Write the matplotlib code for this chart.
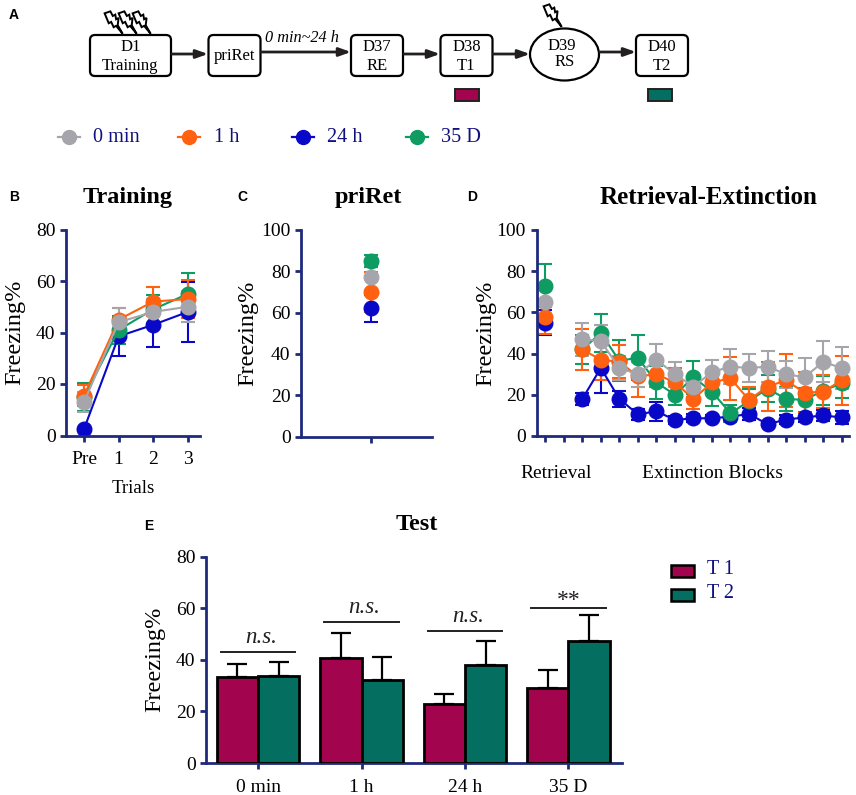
import numpy as np
import matplotlib
matplotlib.use('Agg')
import matplotlib.pyplot as plt
from matplotlib.patches import FancyBboxPatch, Ellipse, Polygon, Rectangle

W, H = 856, 795
plt.rcParams['font.family'] = ['Liberation Serif', 'DejaVu Serif']
plt.rcParams['mathtext.fontset'] = 'stix'

# ---- data ----
groups = ['0 min', '1 h', '24 h', '35 D']
draw_order = ['24 h', '35 D', '1 h', '0 min']
colors = {'0 min': '#A7A5AC', '1 h': '#FF6110', '24 h': '#0A08C8', '35 D': '#0E9C62'}

train_labels = ['Pre', '1', '2', '3']
train_mean = {'0 min': [13, 44, 48, 50], '1 h': [15.5, 45, 52, 53],
              '24 h': [2.5, 38.5, 43, 48], '35 D': [15, 41, 49, 55]}
train_err = {'0 min': [4, 5.5, 5, 6], '1 h': [4, 4.5, 5.5, 7.5],
             '24 h': [0.5, 7.5, 8.5, 11.5], '35 D': [5.5, 5.5, 5.5, 8]}

pri_mean = {'0 min': 77, '1 h': 70, '24 h': 62, '35 D': 85}
pri_err = {'0 min': 6, '1 h': 9.5, '24 h': 6.5, '35 D': 3}

ret_mean = {'0 min': 65, '1 h': 58, '24 h': 55, '35 D': 73}
ret_err = {'0 min': 8, '1 h': 8.5, '24 h': 6, '35 D': 10.5}

ext_mean = {
    '0 min': [47, 46, 33, 30, 37, 30, 24, 31, 33.7, 33, 33.7, 30, 28.5, 36, 33],
    '1 h': [42, 37, 36, 29, 30, 26, 18, 26, 28, 17.5, 24, 27, 21, 21.5, 27],
    '24 h': [18, 33, 18, 10.5, 12, 7.8, 8.6, 8.6, 9.4, 10.7, 5.7, 8, 9, 10, 9],
    '35 D': [42, 50, 36.5, 38, 26, 20, 28.5, 21.5, 11, 17, 23, 18, 17.5, 22, 25.5],
}
ext_err = {
    '0 min': [8, 8, 6, 6, 7.5, 6, 5, 6, 8.5, 7, 7.5, 6.5, 9.5, 10, 10],
    '1 h': [10, 10, 8, 10, 6, 7, 5, 6, 10.5, 6.5, 12, 13, 10, 8, 12],
    '24 h': [3, 12, 4, 2.5, 4.5, 2, 2, 1.5, 2, 3, 1, 2, 2, 2.5, 3],
    '35 D': [7, 9, 10, 11, 8, 5, 8, 7, 4, 6, 6.5, 6, 6, 7, 7],
}
ext_gap = 1  # unlabelled slot between retrieval and the extinction blocks

test_labels = ['0 min', '1 h', '24 h', '35 D']
t1_mean = [33.5, 40.5, 23, 29]
t1_top = [38.2, 50.5, 26.8, 36]
t2_mean = [33.8, 32.2, 38, 47.2]
t2_top = [39, 41.2, 47.3, 57.5]
sig_y = [43, 54.5, 51, 60]
sig_text = ['n.s.', 'n.s.', 'n.s.', '**']

navy = '#1F2A7C'
dark = '#231F20'
T1 = '#A3044E'
T2 = '#046F60'
legend_blue = '#10107F'

fig = plt.figure(figsize=(W / 100, H / 100), dpi=100, facecolor='white')


def px_axes(x0, y0, x1, y1):
    """axes from pixel box: x0 left, y0 bottom (image coords), x1 right, y1 top"""
    ax = fig.add_axes([x0 / W, 1 - y0 / H, (x1 - x0) / W, (y0 - y1) / H])
    ax.patch.set_alpha(0)
    for s in ['top', 'right']:
        ax.spines[s].set_visible(False)
    for s in ['left', 'bottom']:
        ax.spines[s].set_color(navy)
        ax.spines[s].set_linewidth(2.0)
    ax.tick_params(axis='both', color=navy, width=2.0, length=4.5, labelsize=14, pad=3)
    return ax


def pts(ax, x, y, e, c, ms=10.5):
    ax.errorbar(x, y, yerr=e, color=c, lw=1.5, elinewidth=1.5, capsize=5, capthick=1.5,
                marker='o', ms=ms, mec=c, mfc=c, clip_on=False)


# ---- B ----
ax = px_axes(66, 435.5, 200, 229.5)
x = np.arange(4)
ax.set_xlim(-0.52, 3.35)
ax.set_ylim(0, 80)
for g in draw_order:
    pts(ax, x, train_mean[g], train_err[g], colors[g])
ax.set_xticks(x, train_labels)
ax.tick_params(axis='x', pad=7)
ax.set_yticks([0, 20, 40, 60, 80])
ax.set_ylabel('Freezing%', fontsize=17.5, labelpad=8)
ax.set_xlabel('Trials', fontsize=13.5, labelpad=8)

# ---- C ----
ax = px_axes(301, 436.5, 432, 230)
ax.set_xlim(-70 / 61, 1)
ax.set_ylim(0, 100)
for g in ['24 h', '1 h', '35 D', '0 min']:
    pts(ax, [0], [pri_mean[g]], [pri_err[g]], colors[g])
ax.set_xticks([0], [''])
ax.set_yticks([0, 20, 40, 60, 80, 100])
ax.set_ylabel('Freezing%', fontsize=17.5, labelpad=2)

# ---- D ----
ax = px_axes(536.5, 436, 849, 230)
ax.set_xlim(-8.8 / 18.6, 16 + 7.4 / 18.6)
ax.set_ylim(0, 100)
ext_x = np.arange(len(ext_mean['0 min'])) + 1 + ext_gap
for g in draw_order:
    pts(ax, ext_x, ext_mean[g], ext_err[g], colors[g])
    pts(ax, [0], [ret_mean[g]], [ret_err[g]], colors[g])
ax.set_xticks(np.arange(17), [''] * 17)
ax.set_yticks([0, 20, 40, 60, 80, 100])
ax.set_ylabel('Freezing%', fontsize=17.5, labelpad=0)

# ---- E ----
ax = px_axes(206, 763, 622, 556.5)
cx = np.arange(4)
bw = 41.3 / 103.4
ax.set_xlim(-52 / 103.4, 3 + 53.5 / 103.4)
ax.set_ylim(0, 80)
ax.bar(cx - bw / 2, t1_mean, bw, color=T1, edgecolor='black', lw=2, zorder=3)
ax.bar(cx + bw / 2, t2_mean, bw, color=T2, edgecolor='black', lw=2, zorder=3)
for xs, m, t in ((cx - bw / 2, t1_mean, t1_top), (cx + bw / 2, t2_mean, t2_top)):
    ax.errorbar(xs, m, yerr=[np.zeros(4), np.array(t) - np.array(m)], fmt='none',
                ecolor='black', elinewidth=1.6, capsize=7.5, capthick=1.6, zorder=2)
for i in range(4):
    ax.plot([i - 0.36, i + 0.36], [sig_y[i]] * 2, color=dark, lw=1.4)
    if sig_text[i] == '**':
        ax.text(i, sig_y[i] - 1.2, sig_text[i], ha='center', va='bottom', fontsize=17, color=dark)
    else:
        ax.text(i + 0.03, sig_y[i] + 1.5, sig_text[i], ha='center', va='bottom', fontsize=16.5,
                style='italic', color=dark)
ax.set_xticks(cx, test_labels)
ax.set_yticks([0, 20, 40, 60, 80])
ax.tick_params(axis='x', pad=7)
ax.set_ylabel('Freezing%', fontsize=17.5, labelpad=8)

# ---- overlay: schematic, legends, titles ----
ov = fig.add_axes([0, 0, 1, 1], zorder=10)
ov.set_xlim(0, W)
ov.set_ylim(H, 0)
ov.axis('off')
ov.patch.set_alpha(0)


def box(x0, y0, x1, y1, lines):
    ov.add_patch(FancyBboxPatch((x0 + 4, y0 + 4), x1 - x0 - 8, y1 - y0 - 8,
                                boxstyle='round,pad=4,rounding_size=5', fc='white',
                                ec='black', lw=1.6))
    if len(lines) == 1:
        ov.text((x0 + x1) / 2, (y0 + y1) / 2 + 0.5, lines[0], ha='center', va='center', fontsize=12)
    else:
        ov.text((x0 + x1) / 2, y0 + 12, lines[0], ha='center', va='center', fontsize=12)
        ov.text((x0 + x1) / 2, y0 + 30.5, lines[1], ha='center', va='center', fontsize=12)


def arrow(x0, x1, y):
    ov.annotate('', xy=(x1, y), xytext=(x0, y),
                arrowprops=dict(arrowstyle='-|>,head_length=0.7,head_width=0.25', color=dark,
                                lw=2.0, shrinkA=0, shrinkB=0))


def bolt(cx_, top):
    shape = np.array([[-9, 2], [-2, -1], [1, 6], [4, 4], [5, 11], [8, 9], [7, 20], [13, 33],
                      [5, 21], [2, 23], [-1, 15], [-4, 17]], float) * [0.82, 0.66]
    ov.add_patch(Polygon(shape + [cx_, top], closed=True, fc='white', ec='black', lw=1.4))


box(90, 35, 171, 76, ['D1', 'Training'])
box(208.5, 35, 260.5, 76, ['priRet'])
box(351, 35, 403, 76, ['D37', 'RE'])
box(440.5, 35, 492.5, 76, ['D38', 'T1'])
box(636, 35, 688, 76, ['D40', 'T2'])
ov.add_patch(Ellipse((564.5, 54.5), 69, 52, fc='white', ec='black', lw=1.6))
ov.text(562, 46, 'D39', ha='center', va='center', fontsize=12)
ov.text(565, 62, 'RS', ha='center', va='center', fontsize=12)
arrow(172, 208, 54)
arrow(261, 351, 52)
arrow(404, 440, 54)
arrow(493, 530, 54)
arrow(600, 636, 52)
ov.text(302, 37.5, '0 min~24 h', ha='center', va='center', fontsize=11.7, style='italic')
for c_ in (112, 126, 140):
    bolt(c_, 12)
bolt(551, 5)
ov.add_patch(Rectangle((455.5, 88.5), 24, 12, fc=T1, ec='#222222', lw=1.4))
ov.add_patch(Rectangle((648.5, 88.5), 24, 12, fc=T2, ec='#222222', lw=1.4))

for g, lx, tx in zip(groups, (69, 189, 303, 417), (93, 214, 327, 441)):
    ov.plot([lx - 11, lx + 11], [137, 137], color=colors[g], lw=1.6)
    ov.plot([lx], [137], 'o', ms=10, color=colors[g])
    ov.text(tx, 137, g, ha='left', va='center', fontsize=14.6, color=legend_blue)

ov.add_patch(Rectangle((671, 565), 23.5, 12, fc=T1, ec='black', lw=1.8))
ov.add_patch(Rectangle((671, 589), 23.5, 12, fc=T2, ec='black', lw=1.8))
ov.text(707, 570, 'T 1', ha='left', va='center', fontsize=14.5, color=legend_blue)
ov.text(707, 594, 'T 2', ha='left', va='center', fontsize=14.5, color=legend_blue)

for s, tx, ty, fs in (('Training', 128, 197, 17.5), ('priRet', 368, 197, 17.5),
                      ('Retrieval-Extinction', 709, 197, 18), ('Test', 417, 525, 17.5)):
    ov.text(tx, ty, s, ha='center', va='center', fontsize=fs, fontweight='bold')
ov.text(556, 473, 'Retrieval', ha='center', va='center', fontsize=14)
ov.text(713, 473, 'Extinction Blocks', ha='center', va='center', fontsize=14)

for s, tx, ty in (('A', 14, 15), ('B', 14, 197), ('C', 242, 197), ('D', 472, 197), ('E', 149, 526)):
    ov.text(tx, ty, s, ha='center', va='center', fontsize=10, fontweight='bold',
            family=['Liberation Sans', 'DejaVu Sans'])

fig.savefig('out.png', dpi=100)
